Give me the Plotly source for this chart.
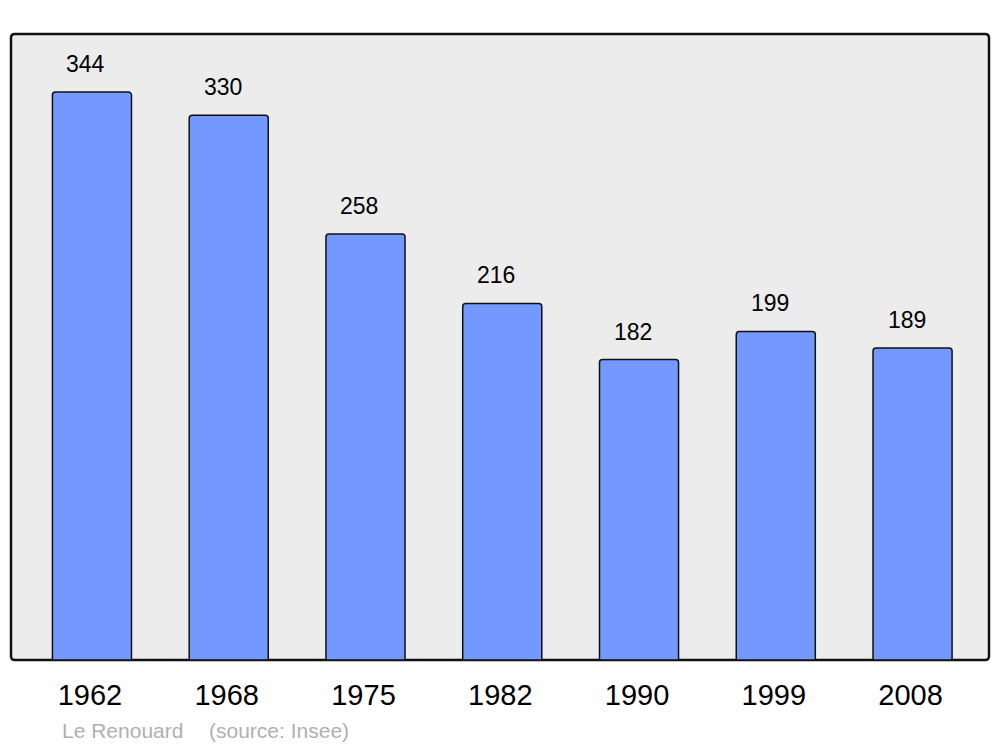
import plotly.graph_objects as go

years = ["1962", "1968", "1975", "1982", "1990", "1999", "2008"]
population = [344, 330, 258, 216, 182, 199, 189]
footer_name = "Le Renouard"
footer_source = "(source: Insee)"

FONT = "Liberation Sans, Arial, sans-serif"

fig = go.Figure()
fig.add_trace(go.Bar(
    x=list(range(len(years))), y=population,
    width=0.578,
    marker=dict(color="#7399ff", line=dict(color="#111111", width=1.5)),
    hoverinfo="skip",
))

for i, v in enumerate(population):
    fig.add_annotation(x=i, y=v, text=str(v), showarrow=False,
                       yshift=28, xshift=-6,
                       font=dict(family=FONT, size=23, color="#000000"))

fig.add_annotation(xref="paper", yref="paper", x=(62 - 11) / 978, y=(660 - 730) / 626,
                   xanchor="left", yanchor="middle", text=footer_name, showarrow=False,
                   xshift=-2, font=dict(family=FONT, size=21, color="#b0b0b0"))
fig.add_annotation(xref="paper", yref="paper", x=(209 - 11) / 978, y=(660 - 730) / 626,
                   xanchor="left", yanchor="middle", text=footer_source, showarrow=False,
                   xshift=-2, font=dict(family=FONT, size=21, color="#b0b0b0"))

# rounded frame
x0, y0, x1, y1, r = 0, 0, 1, 1, 0.004
fig.add_shape(type="path", xref="paper", yref="paper", layer="below",
              path=f"M {x0+r},{y0} L {x1-r},{y0} Q {x1},{y0} {x1},{y0+r*1.5} L {x1},{y1-r*1.5} Q {x1},{y1} {x1-r},{y1} "
                   f"L {x0+r},{y1} Q {x0},{y1} {x0},{y1-r*1.5} L {x0},{y0+r*1.5} Q {x0},{y0} {x0+r},{y0} Z",
              fillcolor="#ececec", line=dict(color="#111111", width=2.5))

fig.update_layout(
    width=1000, height=747,
    margin=dict(l=11, r=11, t=34, b=87),
    paper_bgcolor="white", plot_bgcolor="rgba(0,0,0,0)",
    barcornerradius=3,
    showlegend=False,
    font=dict(family=FONT),
    xaxis=dict(range=[-0.592, 6.559], showgrid=False, zeroline=False,
               showline=False, ticks="", tickmode="array",
               tickvals=list(range(len(years))), ticktext=years,
               tickfont=dict(family=FONT, size=29, color="#000000"),
               ticklabelstandoff=15, ticklabelshift=-2),
    yaxis=dict(range=[0, 379.2], showgrid=False, zeroline=False, showline=False,
               showticklabels=False, ticks=""),
)

fig.write_html("out.html", config={"displayModeBar": False},
               post_script="document.body.style.margin='0';document.body.style.overflow='hidden';")
